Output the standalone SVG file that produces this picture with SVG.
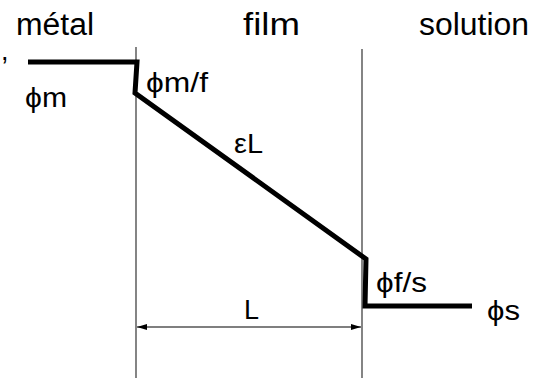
<svg xmlns="http://www.w3.org/2000/svg" width="542" height="378" viewBox="0 0 542 378">
<style>
text{font-family:"Liberation Sans",Arial,sans-serif;fill:#000}
.h{font-size:31px}
.l{font-size:27px}
.thin{stroke:#333;stroke-width:1.2;fill:none}
.thick{stroke:#000;stroke-width:5;fill:none;stroke-linejoin:miter}
</style>
<defs>
<marker id="ah" viewBox="0 0 10 6" refX="10" refY="3" markerWidth="10" markerHeight="6" markerUnits="userSpaceOnUse" orient="auto-start-reverse">
<path d="M0,0 L10,3 L0,6 z" fill="#000"/>
</marker>
</defs>
<g id="connectors">
<line class="thin" x1="136" y1="47" x2="136" y2="378"/>
<line class="thin" x1="362" y1="49" x2="362" y2="378"/>
<polyline class="thick" points="28,62 137,62 135,93 366,259 365,306 472,306"/>
<line x1="137" y1="327" x2="361" y2="327" stroke="#000" stroke-width="1.2" marker-start="url(#ah)" marker-end="url(#ah)"/>
</g>
<g id="labels">
<text class="h" x="16" y="35" textLength="78" lengthAdjust="spacingAndGlyphs">métal</text>
<text class="h" x="243" y="35" textLength="57" lengthAdjust="spacingAndGlyphs">film</text>
<text class="h" x="419" y="35" textLength="110" lengthAdjust="spacingAndGlyphs">solution</text>
<text class="l" x="1" y="60">,</text>
<text class="l" x="25" y="107" textLength="42" lengthAdjust="spacingAndGlyphs">ϕm</text>
<text class="l" x="146" y="92" textLength="62" lengthAdjust="spacingAndGlyphs">ϕm/f</text>
<text class="l" x="234" y="153" textLength="29" lengthAdjust="spacingAndGlyphs">εL</text>
<text class="l" x="376" y="292" textLength="51" lengthAdjust="spacingAndGlyphs">ϕf/s</text>
<text class="l" x="487" y="320" textLength="33" lengthAdjust="spacingAndGlyphs">ϕs</text>
<text class="l" x="244" y="319">L</text>
</g>
</svg>
